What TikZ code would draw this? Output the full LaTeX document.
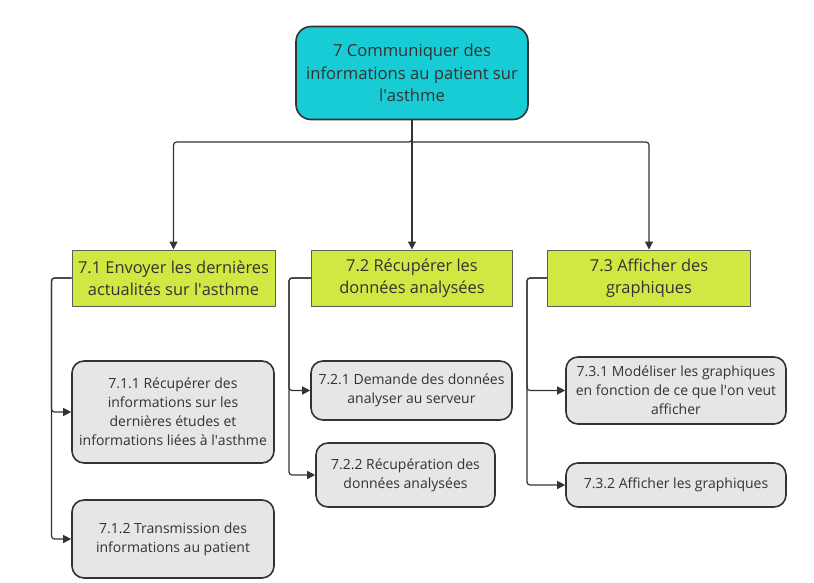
\documentclass[tikz,border=0pt]{standalone}
\usepackage{fontspec}
\setmainfont{Open Sans}
\usetikzlibrary{arrows.meta}
\definecolor{topc}{HTML}{17CCD4}
\definecolor{midc}{HTML}{D1E843}
\definecolor{leafc}{HTML}{E6E6E6}
\definecolor{edgec}{HTML}{333333}
\definecolor{textc}{HTML}{333333}
\newcommand{\aq}{\textquotesingle}
\begin{document}
\begin{tikzpicture}[x=1pt,y=-1pt,
  box/.style={draw=edgec, text=textc, align=center, inner sep=0pt},
  topbox/.style={box, line width=1.6pt, fill=topc, rounded corners=15pt, font=\fontsize{16.6}{22.5}\selectfont},
  midbox/.style={box, draw=edgec!80, line width=1pt, fill=midc, font=\fontsize{16.4}{22}\selectfont},
  leafbox/.style={box, line width=1.6pt, fill=leafc, rounded corners=12pt, font=\fontsize{14}{19}\selectfont},
  conn/.style={draw=edgec, line width=1.2pt, -{Triangle[length=8pt,width=8pt]}, rounded corners=3pt}]
\useasboundingbox (0,0) rectangle (814,582);
% top
\node[topbox, minimum width=232pt, minimum height=93pt] (n7) at (412,73)
  {7 Communiquer des\\informations au patient sur\\l\aq asthme};
% level 2
\node[midbox, minimum width=203pt, minimum height=56pt] (n71) at (173.5,278)
  {7.1 Envoyer les dernières\\actualités sur l\aq asthme};
\node[midbox, minimum width=201pt, minimum height=56pt] (n72) at (412,278)
  {7.2 Récupérer les\\données analysées};
\node[midbox, minimum width=203pt, minimum height=56pt] (n73) at (649,278)
  {7.3 Afficher des\\graphiques};
% leaves
\node[leafbox, minimum width=202pt, minimum height=102pt] (n711) at (173,412)
  {7.1.1 Récupérer des\\informations sur les\\dernières études et\\informations liées à l\aq asthme};
\node[leafbox, minimum width=202pt, minimum height=78pt] (n712) at (173,539)
  {7.1.2 Transmission des\\informations au patient};
\node[leafbox, minimum width=201pt, minimum height=59pt] (n721) at (411.5,390.5)
  {7.2.1 Demande des données\\analyser au serveur};
\node[leafbox, minimum width=179pt, minimum height=64pt] (n722) at (405.5,475)
  {7.2.2 Récupération des\\données analysées};
\node[leafbox, minimum width=220pt, minimum height=67pt] (n731) at (676,390.5)
  {7.3.1 Modéliser les graphiques\\en fonction de ce que l\aq on veut\\afficher};
\node[leafbox, minimum width=220pt, minimum height=44pt] (n732) at (676,485)
  {7.3.2 Afficher les graphiques};
% connectors
\coordinate (j) at (412,142);
\draw[conn] (n7.south) -- (j) -| (n71.north);
\draw[conn] (j) -| (n73.north);
\draw[conn] (n7.south) -- (n72.north);
\draw[conn] (n71.west) -- ++(-20,0) |- (n711.west);
\draw[conn] (n71.west) -- ++(-20,0) |- (n712.west);
\draw[conn] (n72.west) -- ++(-22,0) |- (n721.west);
\draw[conn] (n72.west) -- ++(-22,0) |- (n722.west);
\draw[conn] (n73.west) -- ++(-20,0) |- (n731.west);
\draw[conn] (n73.west) -- ++(-20,0) |- (n732.west);
\end{tikzpicture}
\end{document}
